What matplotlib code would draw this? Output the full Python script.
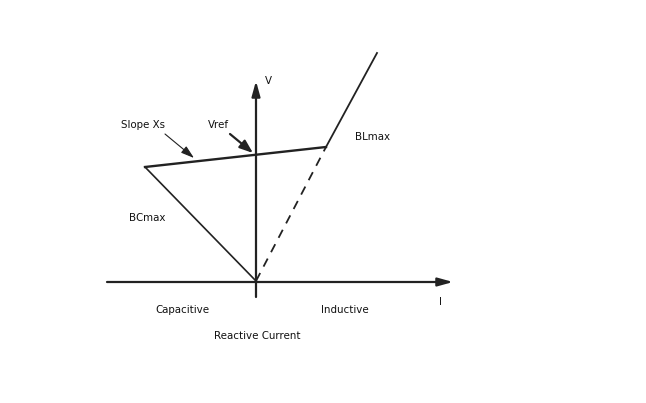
import matplotlib
matplotlib.use("Agg")
import matplotlib.pyplot as plt

# Data (units: relative to origin of I-V axes)
corner_cap = (-111, 115)      # end of BCmax line / start of slope
corner_ind = (70, 135)        # end of slope line / knee
bl_end = (121, 229)           # BLmax line end
vref = 127
origin = (0, 1)

labels = {
    "V": (12, 201),
    "I": (185, -20),
    "Slope Xs": (-113, 157),
    "Vref": (-38, 157),
    "BLmax": (117, 145),
    "BCmax": (-109, 64),
    "Capacitive": (-74, -28),
    "Inductive": (89, -28),
    "Reactive Current": (1, -54),
}

fig = plt.figure(figsize=(6.46, 4.03), dpi=100)
ax = fig.add_axes([0, 0, 1, 1])
ax.set_xlim(-256, 390)
ax.set_ylim(-121, 282)
ax.axis("off")

col = "#222222"
# axes
ax.annotate("", xy=(197, 0), xytext=(-149, 0),
            arrowprops=dict(arrowstyle="-|>,head_length=0.9,head_width=0.25", lw=1.6, color=col, shrinkA=0, shrinkB=0))
ax.annotate("", xy=(0, 201), xytext=(0, -15),
            arrowprops=dict(arrowstyle="-|>,head_length=0.9,head_width=0.25", lw=1.6, color=col, shrinkA=0, shrinkB=0))

# characteristic
ax.plot([origin[0], corner_cap[0]], [origin[1], corner_cap[1]], color=col, lw=1.2)
ax.plot([corner_cap[0], corner_ind[0]], [corner_cap[1], corner_ind[1]], color=col, lw=1.7)
ax.plot([corner_ind[0], bl_end[0]], [corner_ind[1], bl_end[1]], color=col, lw=1.3)
ax.plot([origin[0], corner_ind[0]], [origin[1], corner_ind[1]], color=col, lw=1.3, ls=(0, (5, 4)))

# pointer arrows
ax.annotate("", xy=(-62, 124), xytext=(-91, 148),
            arrowprops=dict(arrowstyle="-|>,head_length=0.8,head_width=0.25", lw=0.8, color=col, shrinkA=0, shrinkB=0))
ax.annotate("", xy=(-3, 129), xytext=(-26, 148),
            arrowprops=dict(arrowstyle="-|>,head_length=0.8,head_width=0.3", lw=1.6, color=col, shrinkA=0, shrinkB=0))

for t, (x, y) in labels.items():
    ax.text(x, y, t, fontsize=7.4, color="#111111", ha="center", va="center", family="DejaVu Sans")

fig.savefig("out.png", dpi=100)
